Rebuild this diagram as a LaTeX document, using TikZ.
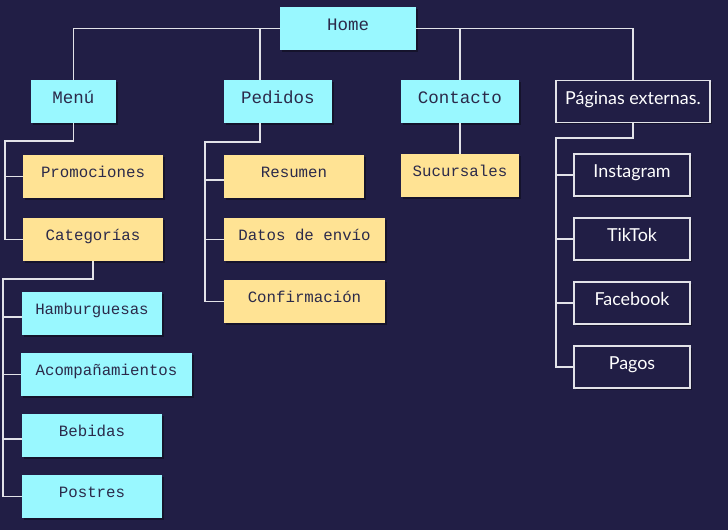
\documentclass[tikz,border=0pt]{standalone}
\usepackage{fontspec}
\setmonofont{Liberation Mono}
\newfontfamily\latofont{Lato}
\usetikzlibrary{shadows}
\definecolor{fondo}{HTML}{211E45}
\definecolor{celeste}{HTML}{99F8FF}
\definecolor{amarillo}{HTML}{FFE394}
\definecolor{tinta}{HTML}{2B2A4A}
\definecolor{trazo}{HTML}{E2E2E8}
\tikzset{
mybox/.style={
  rectangle,
  inner sep=0pt,
  minimum height=43pt,
  text height=0.8em,
  text depth=0.7em,
  align=center,
  drop shadow={shadow xshift=1.5pt,shadow yshift=-1.5pt,opacity=0.35,fill=black}
  },
topbox/.style={
  mybox,
  fill=celeste,
  text=tinta,
  text height=1.0em,
  font=\ttfamily\fontsize{17.5}{20}\selectfont
  },
subbox/.style={
  mybox,
  fill=#1,
  text=tinta,
  font=\ttfamily\fontsize{15.75}{18}\selectfont
  },
extbox/.style={
  mybox,
  fill=fondo,
  draw=trazo,
  line width=1.5pt,
  minimum height=42pt,
  text=white,
  text height=1.25em,
  font=\latofont\fontsize{17.9}{20}\selectfont
  },
link/.style={
  draw=trazo,
  line width=1.5pt
  }
}
\begin{document}
\begin{tikzpicture}[x=1pt,y=-1pt]
    \fill[fondo] (0,0) rectangle (728,530);
    \useasboundingbox (0,0) rectangle (728,530);
    \node[topbox,minimum width=136pt] (home) at (348,28.5) {Home};
    \node[topbox,minimum width=85pt] (menu) at (73.5,101.5) {Menú};
    \node[topbox,minimum width=108pt] (pedidos) at (278,101.5) {Pedidos};
    \node[topbox,minimum width=118pt] (contacto) at (460,101.5) {Contacto};
    \node[extbox,minimum width=154pt] (paginas) at (633,101.5) {Páginas externas.};
    \node[subbox=amarillo,minimum width=140pt] (promo) at (93,176.5) {Promociones};
    \node[subbox=amarillo,minimum width=140pt] (categ) at (93,239.5) {Categorías};
    \node[subbox=amarillo,minimum width=140pt] (resumen) at (294,176.5) {Resumen};
    \node[subbox=amarillo,minimum width=161pt] (datos) at (304.5,239.5) {Datos de envío};
    \node[subbox=amarillo,minimum width=161pt] (confirma) at (304.5,301.5) {Confirmación};
    \node[subbox=amarillo,minimum width=118pt] (sucursal) at (460,175.5) {Sucursales};
    \node[subbox=celeste,minimum width=140pt] (hambur) at (92,313.5) {Hamburguesas};
    \node[subbox=celeste,minimum width=171pt] (acomp) at (106.5,374.5) {Acompañamientos};
    \node[subbox=celeste,minimum width=140pt] (bebidas) at (92,435.5) {Bebidas};
    \node[subbox=celeste,minimum width=140pt] (postres) at (92,496.5) {Postres};
    \node[extbox,minimum width=116pt] (insta) at (632,175) {Instagram};
    \node[extbox,minimum width=116pt] (tiktok) at (632,239) {TikTok};
    \node[extbox,minimum width=116pt] (face) at (632,303) {Facebook};
    \node[extbox,minimum width=116pt] (pagos) at (632,367) {Pagos};
    \coordinate (menuTrunk) at (5,141);
    \coordinate (categTrunk) at (3,279);
    \coordinate (pedTrunk) at (205,142);
    \coordinate (pagTrunk) at (556,138);
    \draw[link] (home.west) -| (menu.north);
    \draw[link] (home.west) -| ([xshift=36pt]pedidos.north west);
    \draw[link] (home.east) -| (contacto.north);
    \draw[link] (home.east) -| (paginas.north);
    \draw[link] (menu.south) |- (menuTrunk) |- (categ.west);
    \draw[link] (menuTrunk) |- (promo.west);
    \draw[link] (categ.south) |- (categTrunk) |- (postres.west);
    \draw[link] (categTrunk) |- ([yshift=-3.5pt]hambur.west);
    \draw[link] (categTrunk) |- (acomp.west);
    \draw[link] (categTrunk) |- ([yshift=-3.5pt]bebidas.west);
    \draw[link] ([xshift=36pt]pedidos.south west) |- (pedTrunk) |- (confirma.west);
    \draw[link] (pedTrunk) |- ([yshift=-3.5pt]resumen.west);
    \draw[link] (pedTrunk) |- (datos.west);
    \draw[link] (contacto.south) -- (sucursal.north);
    \draw[link] (paginas.south) |- (pagTrunk) |- (pagos.west);
    \draw[link] (pagTrunk) |- (insta.west);
    \draw[link] (pagTrunk) |- (tiktok.west);
    \draw[link] (pagTrunk) |- (face.west);
\end{tikzpicture}
\end{document}
